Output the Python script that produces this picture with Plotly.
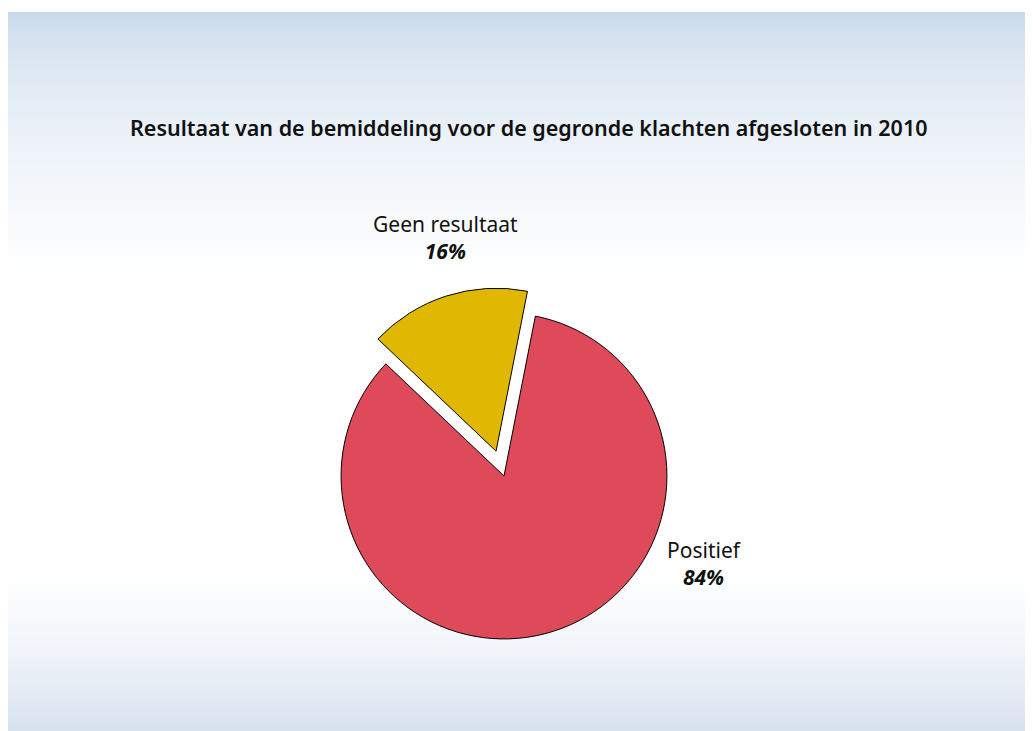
import plotly.graph_objects as go

labels = ["Geen resultaat", "Positief"]
values = [16, 84]
colors = ["#e0b701", "#df4a5b"]
pulls = [0.16, 0]
title = "Resultaat van de bemiddeling voor de gegronde klachten afgesloten in 2010"

W, H = 1033, 731
fig = go.Figure()

fig.add_trace(go.Pie(
    labels=labels, values=values, sort=False, direction="clockwise", rotation=-46.5,
    marker=dict(colors=colors, line=dict(color="black", width=1)),
    pull=pulls, textinfo="none", hoverinfo="label+percent", showlegend=False,
    domain=dict(x=[307 / W, 685 / W], y=[(H - 657) / H, (H - 279) / H]),
))

def hexmix(c1, c2, t):
    a = [int(c1[i:i + 2], 16) for i in (1, 3, 5)]
    b = [int(c2[i:i + 2], 16) for i in (1, 3, 5)]
    return "#%02x%02x%02x" % tuple(round(a[k] + (b[k] - a[k]) * t) for k in range(3))

shapes = []
top, bot = 4, 731
n = 180
step = (bot - top) / n
for i in range(n):
    y0 = top + i * step
    ym = y0 + step / 2
    if ym < 265:
        t = (ym - top) / (265 - top)
        col = hexmix("#c4d6e9", "#ffffff", t ** 0.55)
    elif ym < 552:
        col = "#ffffff"
    else:
        t = min((ym - 552) / (722 - 552), 1)
        col = hexmix("#ffffff", "#d8e2ef", t ** 1.5)
    shapes.append(dict(type="rect", xref="paper", yref="paper", layer="below",
                       x0=0, x1=1, y0=max(0, 1 - (y0 + step + 0.6) / H), y1=1 - y0 / H,
                       fillcolor=col, line=dict(width=0)))

font_lbl = dict(size=21, color="#111111", family="Noto Sans")
annotations = [
    dict(text=title, x=520 / W, y=1 - 119 / H, xref="paper", yref="paper",
         showarrow=False, font=dict(size=21.5, color="#111111", family="Noto Sans", weight=600),
         xanchor="center", yanchor="middle"),
    dict(text=f"{labels[0]}<br><b><i>{values[0]}%</i></b>", x=437 / W, y=1 - 229 / H,
         xref="paper", yref="paper", showarrow=False, align="center",
         font=font_lbl, xanchor="center", yanchor="middle"),
    dict(text=f"{labels[1]}<br><b><i>{values[1]}%</i></b>", x=696 / W, y=1 - 555 / H,
         xref="paper", yref="paper", showarrow=False, align="center",
         font=font_lbl, xanchor="center", yanchor="middle"),
]

fig.update_layout(width=W, height=H, margin=dict(l=0, r=0, t=0, b=0),
                  paper_bgcolor="white", plot_bgcolor="white",
                  shapes=shapes, annotations=annotations)
fig.write_html("out.html")
